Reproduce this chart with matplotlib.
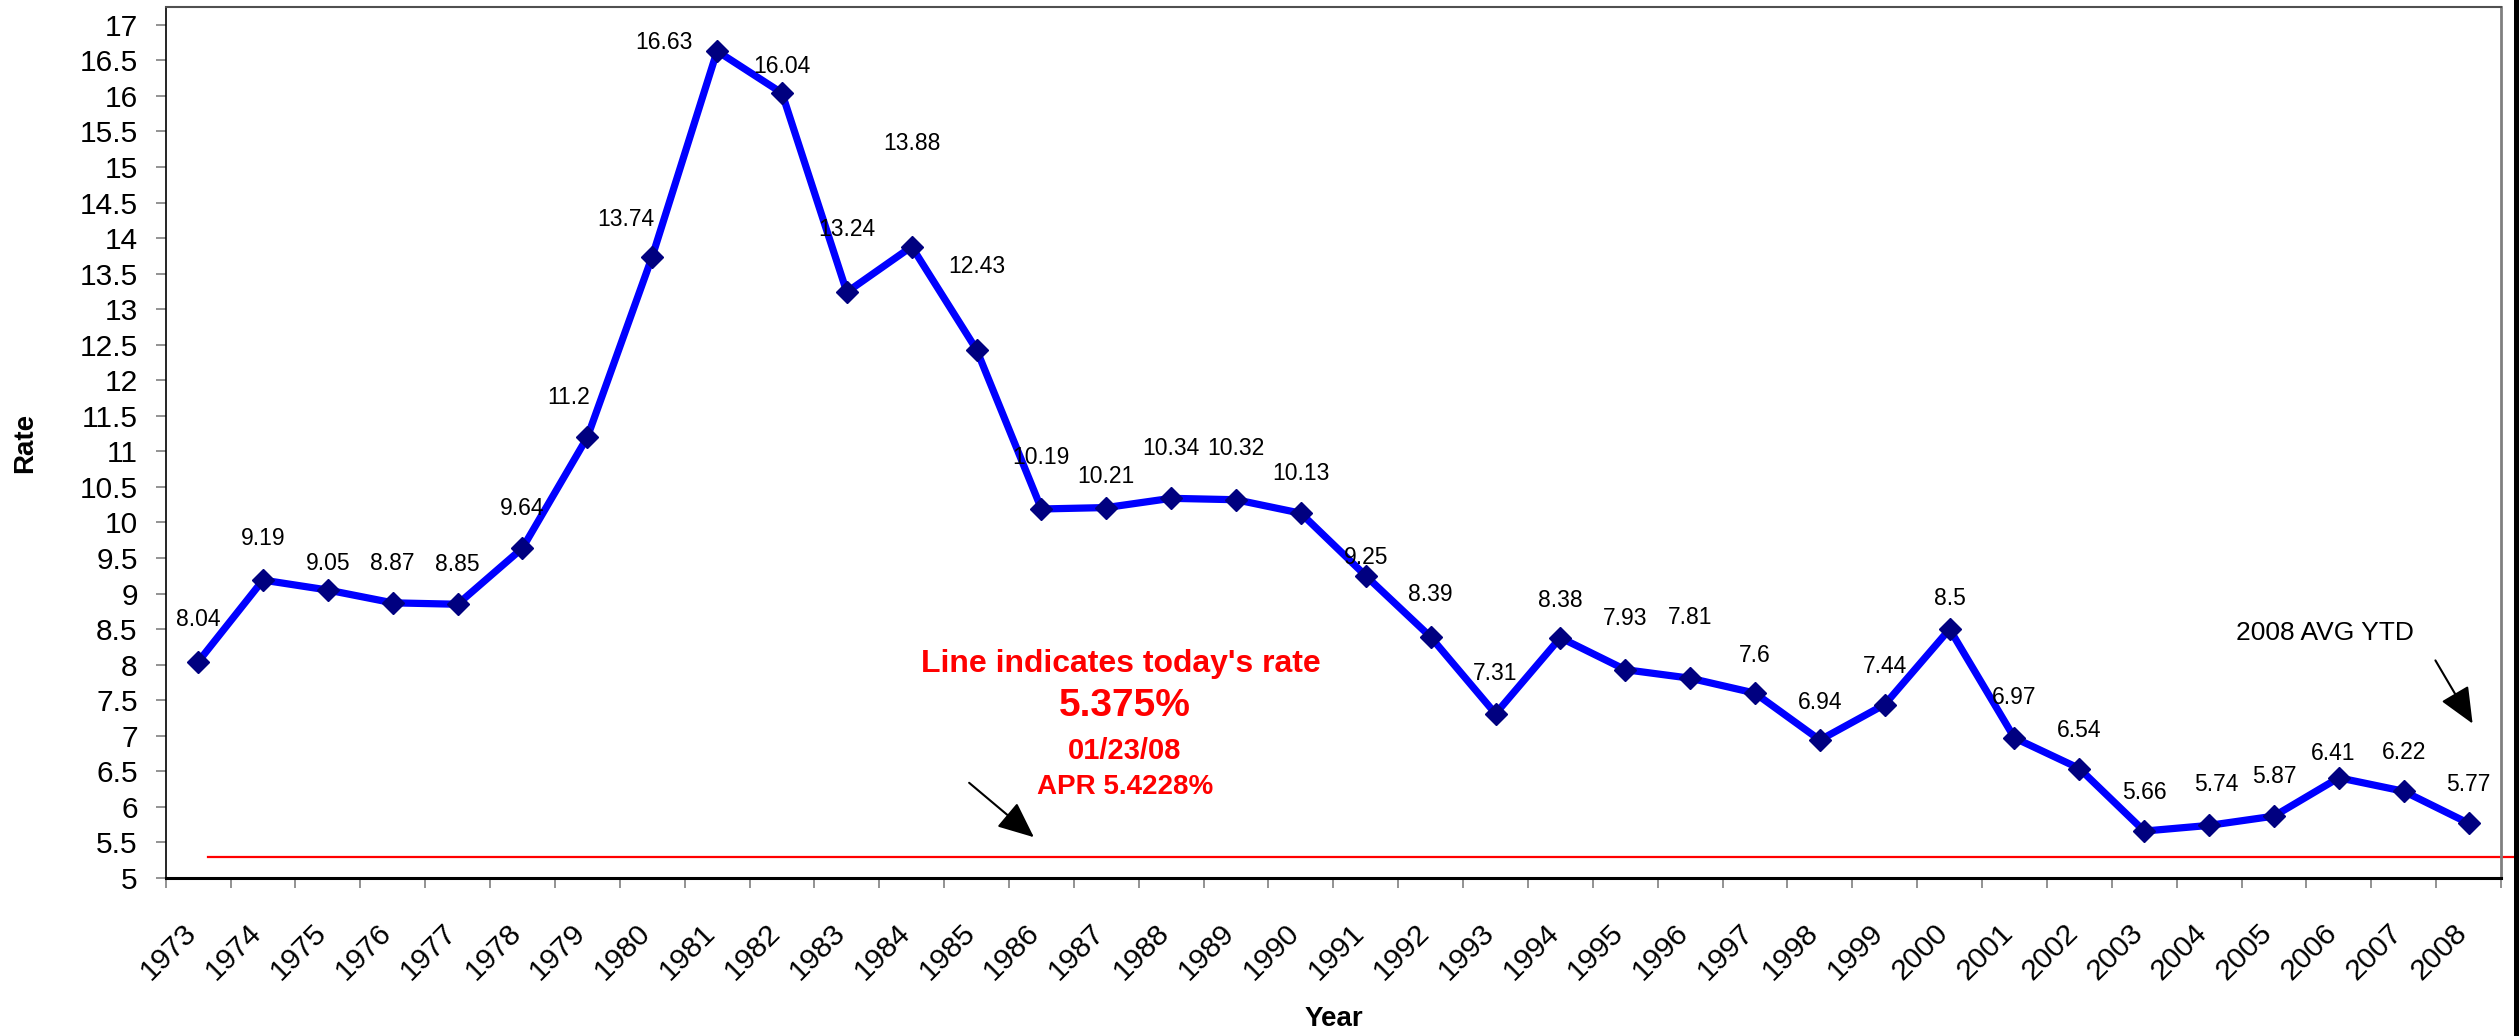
import matplotlib
matplotlib.use("Agg")
import matplotlib.pyplot as plt
from matplotlib import font_manager
from matplotlib.transforms import ScaledTranslation
from matplotlib.patches import Rectangle, FancyArrowPatch
import numpy as np

# ---------------- data ----------------
years = [str(y) for y in range(1973, 2009)]
rates = [8.04, 9.19, 9.05, 8.87, 8.85, 9.64, 11.2, 13.74, 16.63, 16.04,
         13.24, 13.88, 12.43, 10.19, 10.21, 10.34, 10.32, 10.13, 9.25, 8.39,
         7.31, 8.38, 7.93, 7.81, 7.6, 6.94, 7.44, 8.5, 6.97, 6.54,
         5.66, 5.74, 5.87, 6.41, 6.22, 5.77]
rate_labels = ["8.04", "9.19", "9.05", "8.87", "8.85", "9.64", "11.2", "13.74", "16.63", "16.04",
               "13.24", "13.88", "12.43", "10.19", "10.21", "10.34", "10.32", "10.13", "9.25", "8.39",
               "7.31", "8.38", "7.93", "7.81", "7.6", "6.94", "7.44", "8.5", "6.97", "6.54",
               "5.66", "5.74", "5.87", "6.41", "6.22", "5.77"]
today_rate_line = 5.29
y_ticks = [5 + 0.5 * i for i in range(25)]

# label offsets (pixels, dx, dy) – layout only
label_offsets = [(0, 42), (0, 42), (0, 27), (0, 39), (0, 40), (0, 40), (-19, 40), (-26, 37),
                 (-53, 9), (0, 27), (0, 63), (0, 103), (0, 83), (0, 51), (0, 31), (0, 50),
                 (0, 51), (0, 40), (0, 18), (0, 42), (0, 40), (0, 37), (0, 51), (0, 61),
                 (0, 38), (0, 38), (0, 38), (0, 31), (0, 40), (0, 38), (0, 39), (7, 41),
                 (0, 40), (-6, 24), (0, 39), (0, 39)]

# ---------------- fonts ----------------
names = {f.name for f in font_manager.fontManager.ttflist}
base_font = "Liberation Sans" if "Liberation Sans" in names else "DejaVu Sans"
narrow_font = "Liberation Sans Narrow" if "Liberation Sans Narrow" in names else base_font
plt.rcParams["font.family"] = [base_font, "DejaVu Sans"]

W, H = 2519, 1036
fig = plt.figure(figsize=(W / 100, H / 100), dpi=100)
fig.patch.set_facecolor("white")

left_px, right_px, top_px, bottom_px = 165.7, 2501, 7, 878
ax = fig.add_axes([left_px / W, 1 - bottom_px / H, (right_px - left_px) / W, (bottom_px - top_px) / H])

x = np.arange(len(years))
ax.plot(x, rates, color="#0000FF", lw=5.2, marker="D", markersize=11.5,
        markerfacecolor="#000080", markeredgecolor="#000080", markeredgewidth=1, zorder=3,
        solid_joinstyle="miter")

ax.set_xlim(-0.5, len(years) - 0.5)
ax.set_ylim(5, 17.25)

# today's rate line
ax.axhline(today_rate_line, xmin=0.0181, xmax=1.0053, color="#FF0000", lw=1.6,
           clip_on=False, zorder=2)

# data labels
for xi, yi, lab, (dx, dy) in zip(x, rates, rate_labels, label_offsets):
    ax.annotate(lab, (xi, yi), xytext=(dx, dy), textcoords="offset pixels",
                ha="center", va="center", fontsize=16.5, color="black", zorder=4)

# y axis
ax.set_yticks(y_ticks)
ax.set_yticklabels([f"{v:g}" for v in y_ticks], fontsize=21.5)
ax.tick_params(axis="y", direction="out", length=7.2, width=1.2, color="#808080", pad=13)

# x axis: labels at centers, ticks at boundaries
ax.set_xticks(x)
ax.set_xticklabels(years, fontsize=21.5, rotation=45, rotation_mode="anchor",
                   ha="right", va="center")
ax.set_xticks(np.arange(len(years) + 1) - 0.5, minor=True)
ax.tick_params(axis="x", which="major", length=0, pad=36.5)
ax.tick_params(axis="x", which="minor", direction="out", length=7.2, width=1.2, color="#808080")
offset = ScaledTranslation(-6 / 100, 0, fig.dpi_scale_trans)
for lbl in ax.get_xticklabels():
    lbl.set_transform(lbl.get_transform() + offset)

# spines
ax.spines["left"].set_color("black")
ax.spines["left"].set_linewidth(1.2)
ax.spines["bottom"].set_color("black")
ax.spines["bottom"].set_linewidth(2.2)
ax.spines["top"].set_color("#505050")
ax.spines["top"].set_linewidth(1.5)
ax.spines["right"].set_color("#808080")
ax.spines["right"].set_linewidth(2)

# axis titles
fig.text(25 / W, 1 - 443 / H, "Rate", rotation=90, ha="center", va="center",
         fontsize=20, fontweight="bold")
fig.text(1334 / W, 1 - 1019 / H, "Year", ha="center", va="center",
         fontsize=20, fontweight="bold")

# red annotation text
red_family = [narrow_font, "DejaVu Sans"]
fig.text(1121 / W, 1 - 664 / H, "Line indicates today's rate", ha="center", va="center",
         fontsize=23, fontweight="bold", color="#FF0000", family=red_family)
fig.text(1125 / W, 1 - 706 / H, "5.375%", ha="center", va="center",
         fontsize=28, fontweight="bold", color="#FF0000", family=red_family)
fig.text(1125 / W, 1 - 751 / H, "01/23/08", ha="center", va="center",
         fontsize=21, fontweight="bold", color="#FF0000", family=red_family)
fig.text(1125 / W, 1 - 787 / H, "APR 5.4228%", ha="center", va="center",
         fontsize=20, fontweight="bold", color="#FF0000", family=red_family)

# arrows
fig.add_artist(FancyArrowPatch(
    (967 / W, 1 - 781 / H), (1036 / W, 1 - 839 / H), transform=fig.transFigure,
    arrowstyle="-|>,head_length=1.6,head_width=0.7", mutation_scale=14, color="black", lw=1.5))
fig.add_artist(FancyArrowPatch(
    (2434 / W, 1 - 658 / H), (2474 / W, 1 - 726 / H), transform=fig.transFigure,
    arrowstyle="-|>,head_length=1.6,head_width=0.7", mutation_scale=14, color="black", lw=1.5))
fig.text(2325 / W, 1 - 633 / H, "2008 AVG YTD", ha="center", va="center", fontsize=19)

# black bar at right edge
fig.add_artist(Rectangle((2514 / W, 0), 5 / W, 1, transform=fig.transFigure,
                         facecolor="black", edgecolor="none"))

fig.savefig("out.png", dpi=100, facecolor="white")
